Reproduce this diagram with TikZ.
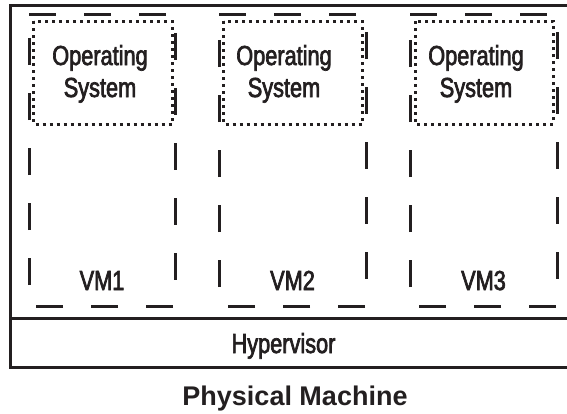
\documentclass[tikz,border=0pt]{standalone}
\usepackage{fontspec}
\setmainfont{Liberation Sans}
\newfontfamily\condfont[FakeStretch=0.79, FakeBold=2.5]{Liberation Sans}
\definecolor{ink}{HTML}{231F20}

\begin{document}
\begin{tikzpicture}[x=1pt, y=-1pt,
        frameline/.style={ink, line width=3pt},
        vmline/.style={ink, line width=3pt, dash pattern=on 27pt off 28pt},
        osline/.style={ink, line width=3pt, dash pattern=on 3pt off 4pt},
        boxtext/.style={text=ink, font=\condfont\fontsize{27.5}{32}\selectfont, anchor=base, inner sep=0pt, align=center}]
        \useasboundingbox (0, 0) rectangle (567, 413);
        \clip (0, 0) rectangle (567, 413);
        % physical machine and hypervisor
        \draw[frameline] (10, 5) rectangle (600, 367);
        \draw[frameline] (10, 318) -- (600, 318);
        \node[boxtext] (hyper) at (283.5, 353) {Hypervisor};
        \node[boxtext, font=\bfseries\fontsize{27}{30}\selectfont] (machine) at (295, 405) {Physical Machine};
        % VM1
        \draw[vmline] (29, 14) -- (175, 14) -- (175, 306) -- (29, 306) -- cycle;
        \draw[osline] (33.5, 21) rectangle (172, 124);
        \node[boxtext] (os1) at (100, 97) {Operating\\System};
        \node[boxtext] (vm1) at (102, 290) {VM1};
        % VM2
        \draw[vmline] (219, 14) -- (366, 14) -- (366, 306) -- (219, 306) -- cycle;
        \draw[osline] (223.5, 21) rectangle (362, 124);
        \node[boxtext] (os2) at (284, 97) {Operating\\System};
        \node[boxtext] (vm2) at (292.5, 290) {VM2};
        % VM3
        \draw[vmline] (410, 14) -- (557, 14) -- (557, 306) -- (410, 306) -- cycle;
        \draw[osline] (415, 21) rectangle (553, 124);
        \node[boxtext] (os3) at (476, 97) {Operating\\System};
        \node[boxtext] (vm3) at (483.5, 290) {VM3};
\end{tikzpicture}
\end{document}
